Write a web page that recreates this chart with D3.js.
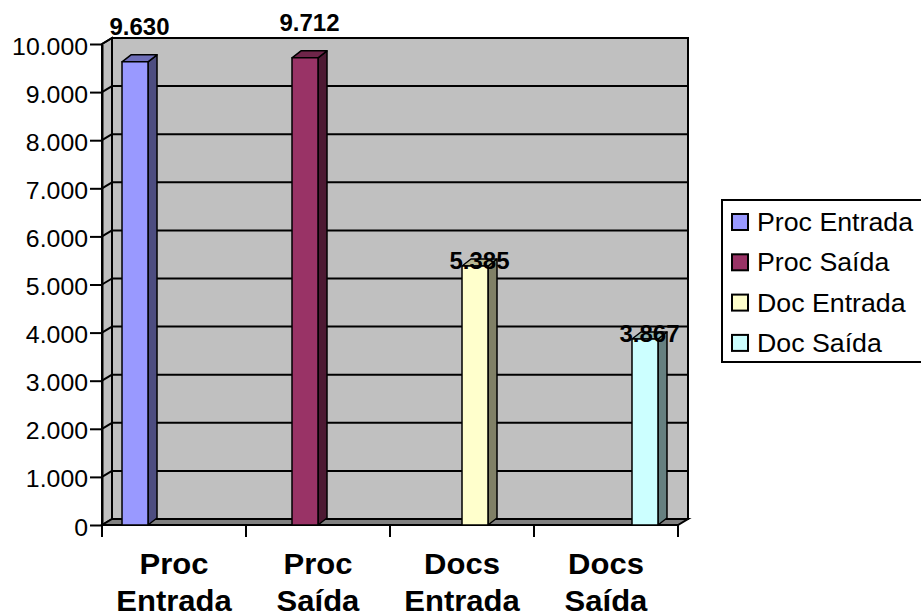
<!DOCTYPE html>
<html>
<head>
<meta charset="utf-8">
<script src="https://cdn.jsdelivr.net/npm/d3@7"></script>
<style>
  body { margin: 0; background: #fff; }
  text { font-family: Arial, "Liberation Sans", sans-serif; fill: #000; }
</style>
</head>
<body>
<div id="chart"></div>
<script>
// chart data

const categories = ["Proc Entrada", "Proc Saída", "Docs Entrada", "Docs Saída"];
const seriesNames = ["Proc Entrada", "Proc Saída", "Doc Entrada", "Doc Saída"];
const procEntrada = [9630, 0, 0, 0];
const procSaida = [0, 9712, 0, 0];
const docEntrada = [0, 0, 5385, 0];
const docSaida = [0, 0, 0, 3867];
const yTickValues = [0, 1000, 2000, 3000, 4000, 5000, 6000, 7000, 8000, 9000, 10000];
const colors = ["#9999FF", "#993366", "#FFFFCC", "#CCFFFF"];

const seriesValues = [procEntrada, procSaida, docEntrada, docSaida];

// size + 3d depth of the plot

const width = 921, height = 616;
const plot = { left: 102, right: 678, top: 44, bottom: 525 };
const depth = { dx: 10, dy: -6 };      // walls
const barDepth = { dx: 9, dy: -7 };    // columns

const svg = d3.select("#chart")
  .append("svg")
    .attr("width", width)
    .attr("height", height);

// scales

const x0 = d3.scaleBand()
  .domain(categories)
  .range([plot.left, plot.right]);

const x1 = d3.scaleBand()
  .domain(seriesNames)
  .range([0, x0.bandwidth()])
  .paddingOuter(0.77);

const y = d3.scaleLinear()
  .domain([0, 10000])
  .range([plot.bottom, plot.top]);

const fmt = d3.formatLocale({ decimal: ",", thousands: ".", grouping: [3], currency: ["", ""] }).format(",d");

// walls and floor

const bx = plot.left + depth.dx, by = plot.top + depth.dy;
const bRight = plot.right + depth.dx, bBottom = plot.bottom + depth.dy;

svg.append("rect")
  .attr("x", bx).attr("y", by)
  .attr("width", bRight - bx).attr("height", bBottom - by)
  .attr("fill", "#C0C0C0").attr("stroke", "#000").attr("stroke-width", 2);

svg.append("polygon")
  .attr("points", [[plot.left, plot.top], [bx, by], [bx, bBottom], [plot.left, plot.bottom]].join(" "))
  .attr("fill", "#C0C0C0").attr("stroke", "#000").attr("stroke-width", 2);

svg.append("polygon")
  .attr("points", [[plot.left, plot.bottom], [bx, bBottom], [bRight, bBottom], [plot.right, plot.bottom]].join(" "))
  .attr("fill", "#808080").attr("stroke", "#000").attr("stroke-width", 2);

// gridlines on back wall + left wall

const grid = svg.append("g").attr("stroke", "#000").attr("stroke-width", 2);
yTickValues.filter(v => v > 0).forEach(v => {
  grid.append("line")
    .attr("x1", bx).attr("x2", bRight)
    .attr("y1", y(v) + depth.dy).attr("y2", y(v) + depth.dy);
  grid.append("line")
    .attr("x1", plot.left).attr("x2", bx)
    .attr("y1", y(v)).attr("y2", y(v) + depth.dy);
});

// bars (3d columns)

function shade(c, k) {
  const r = d3.rgb(c);
  return d3.rgb(r.r * k, r.g * k, r.b * k).formatHex();
}

const bars = [];
seriesValues.forEach((vals, si) => {
  vals.forEach((v, ci) => {
    if (v > 0) bars.push({ s: seriesNames[si], c: categories[ci], v: v, color: colors[si] });
  });
});

const barG = svg.selectAll(".bar")
  .data(bars)
  .join("g")
    .attr("class", "bar")
    .attr("stroke", "#000")
    .attr("stroke-width", 1.5)
    .attr("stroke-linejoin", "round");

barG.each(function(d) {
  const g = d3.select(this);
  const xl = x0(d.c) + x1(d.s), xr = xl + x1.bandwidth();
  const yt = y(d.v), yb = y(0);
  const { dx, dy } = barDepth;
  g.append("polygon") // side
    .attr("points", [[xr, yt], [xr + dx, yt + dy], [xr + dx, yb + dy], [xr, yb]].join(" "))
    .attr("fill", shade(d.color, 0.5));
  g.append("polygon") // top
    .attr("points", [[xl, yt], [xl + dx, yt + dy], [xr + dx, yt + dy], [xr, yt]].join(" "))
    .attr("fill", shade(d.color, 0.72));
  g.append("rect") // front
    .attr("x", xl).attr("y", yt)
    .attr("width", xr - xl).attr("height", yb - yt)
    .attr("fill", d.color);
});

// y-axis

const yAxis = svg.append("g")
  .attr("transform", `translate(${plot.left},0)`)
  .call(d3.axisLeft(y)
    .tickValues(yTickValues)
    .tickFormat(fmt)
    .tickSize(12)
    .tickSizeOuter(0));

yAxis.selectAll("path, line").attr("stroke", "#000").attr("stroke-width", 2);
yAxis.selectAll("text")
  .attr("x", 0).attr("dy", null)
  .attr("transform", "translate(-14,10) scale(1.08,1)")
  .style("font-size", "23px")
  .style("font-family", "Arial, 'Liberation Sans', sans-serif")
  .attr("fill", "#000");

// x ticks at category edges

const xEdges = categories.map(c => x0(c)).concat([plot.right]);
svg.append("g")
  .selectAll("line")
  .data(xEdges)
  .join("line")
    .attr("x1", d => d).attr("x2", d => d)
    .attr("y1", plot.bottom).attr("y2", plot.bottom + 12)
    .attr("stroke", "#000").attr("stroke-width", 2);

// category labels, two lines

const catLabels = svg.selectAll(".cat")
  .data(categories)
  .join("g")
    .attr("class", "cat")
    .attr("transform", d => `translate(${x0(d) + x0.bandwidth() / 2},0)`);

catLabels.each(function(d) {
  const words = d.split(" ");
  d3.select(this).selectAll("text")
    .data(words)
    .join("text")
      .attr("text-anchor", "middle")
      .attr("transform", (w, i) => `translate(0,${574 + i * 37}) scale(1.07,1)`)
      .style("font-size", "29px")
      .style("font-weight", "bold")
      .text(w => w);
});

// value labels (Excel lifts the tallest ones above the plot)

svg.selectAll(".val")
  .data(bars)
  .join("text")
    .attr("class", "val")
    .attr("text-anchor", "middle")
    .attr("x", d => x0(d.c) + x1(d.s) + x1.bandwidth() / 2 + barDepth.dx / 2)
    .attr("y", d => d.v > 9000 ? y(d.v) - 27 : y(d.v) + 3)
    .style("font-size", "24px")
    .style("font-weight", "bold")
    .text(d => fmt(d.v));

// legend

const legend = svg.append("g").attr("transform", "translate(722,200)");

legend.append("rect")
  .attr("x", 0).attr("y", 0)
  .attr("width", 220).attr("height", 162)
  .attr("fill", "#fff").attr("stroke", "#000").attr("stroke-width", 2);

const li = legend.selectAll(".li")
  .data(seriesNames)
  .join("g")
    .attr("class", "li")
    .attr("transform", (d, i) => `translate(0,${22 + i * 40.3})`);

li.append("rect")
  .attr("x", 10).attr("y", -8)
  .attr("width", 16).attr("height", 16)
  .attr("fill", (d, i) => colors[i])
  .attr("stroke", "#000").attr("stroke-width", 2);

li.append("text")
  .attr("transform", "translate(35,9) scale(1.07,1)")
  .style("font-size", "25px")
  .text(d => d);
</script>
</body>
</html>
